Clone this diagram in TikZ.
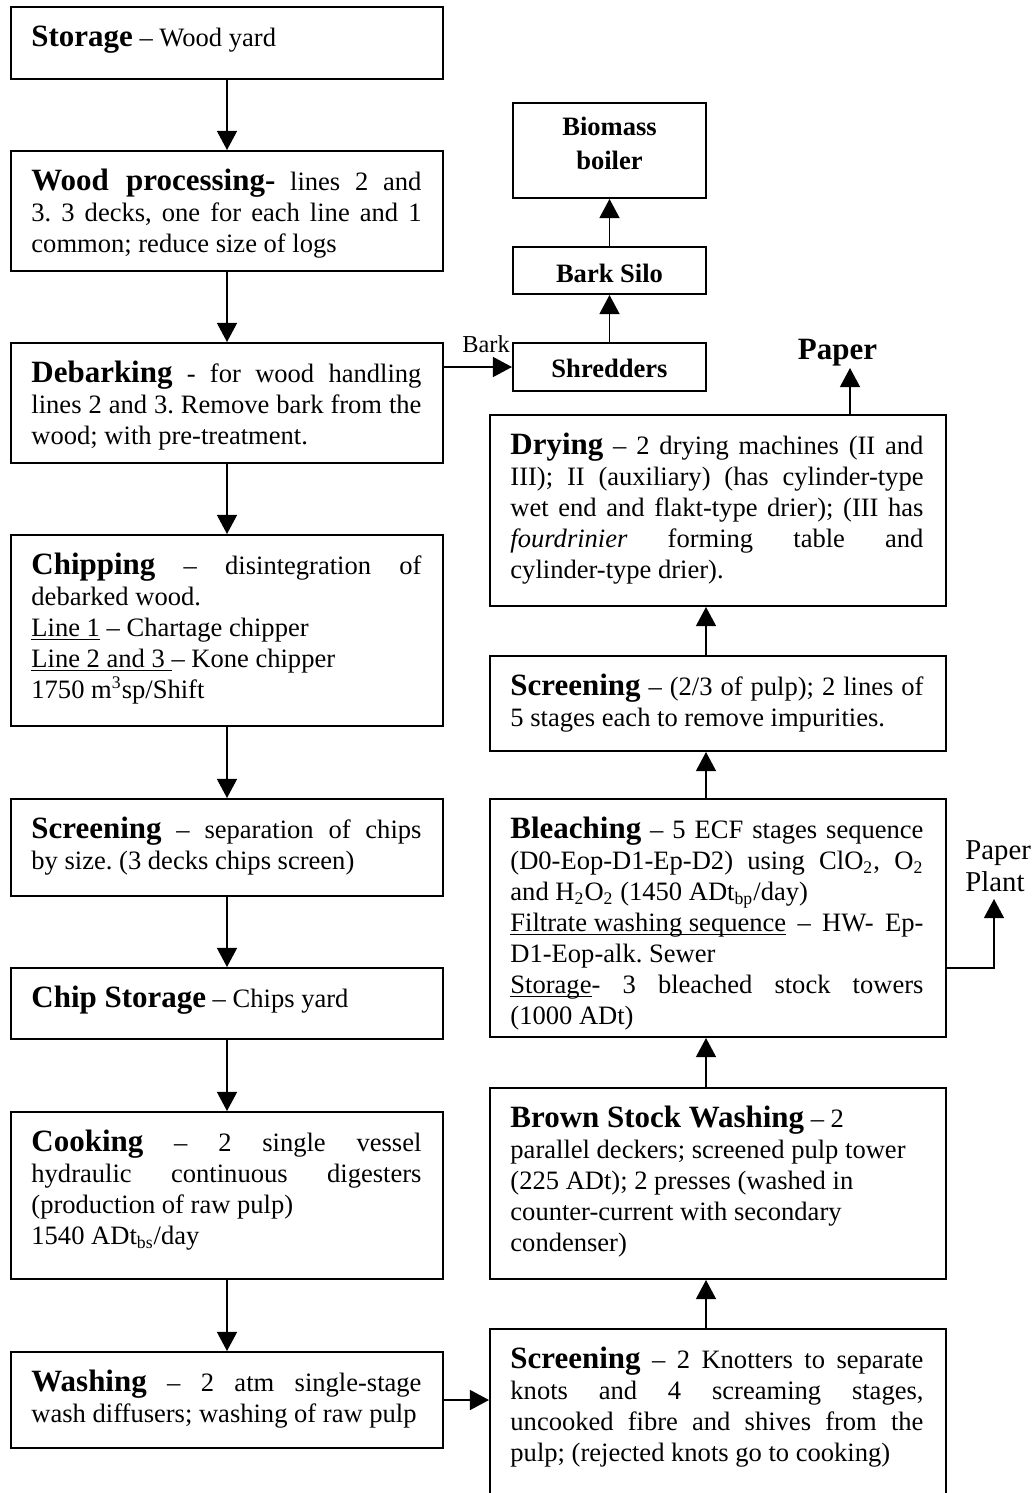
\documentclass[tikz,border=0pt]{standalone}
\usepackage{fontspec}
\setmainfont{Liberation Serif}
\usetikzlibrary{arrows.meta,fit}

% one drawing unit = 0.452pt
\newlength\LW \setlength\LW{176.3pt}   % text width, left column
\newlength\RW \setlength\RW{186.7pt}   % text width, right column
\newcommand\bodyfont{\fontsize{12}{14}\selectfont\frenchspacing\spaceskip=0pt\xspaceskip=0pt}
\newcommand\hd[1]{{\fontsize{14}{14}\selectfont\bfseries #1}}
\newcommand\JL[1]{\makebox[\LW][s]{#1}}
\newcommand\JR[1]{\makebox[\RW][s]{#1}}
\newcommand\fl{\rule{0pt}{10.5pt}}
% underline drawn just below the baseline
\newsavebox\ulbox
\newcommand\ul[1]{\leavevmode\sbox\ulbox{#1}\rlap{\rule[-1.6pt]{\wd\ulbox}{0.6pt}}\usebox\ulbox}

\tikzset{
  box/.style={draw, line width=0.9pt, inner sep=0pt},
  arr/.style={-{Triangle[width=9pt,length=8.6pt]}, line width=0.75pt},
  txtL/.style={anchor=north west, inner sep=0pt, text width=\LW, align=flush left, font=\bodyfont},
  txtR/.style={anchor=north west, inner sep=0pt, text width=\RW, align=flush left, font=\bodyfont},
  small/.style={inner sep=0pt, font=\fontsize{12}{15.4}\selectfont\bfseries, align=center},
}

\begin{document}
\begin{tikzpicture}[x=0.452pt, y=-0.452pt]
\useasboundingbox[fill=white] (0,0) rectangle (1034,1493);

% ---------- left column ----------
\node[box, fit={(11,7) (443,79)}] (storage) {};
\node[box, fit={(11,151) (443,271)}] (woodp) {};
\node[box, fit={(11,343) (443,463)}] (debark) {};
\node[box, fit={(11,535) (443,726)}] (chip) {};
\node[box, fit={(11,799) (443,896)}] (scrL) {};
\node[box, fit={(11,968) (443,1039)}] (chipst) {};
\node[box, fit={(11,1112) (443,1279)}] (cook) {};
\node[box, fit={(11,1352) (443,1448)}] (wash) {};

\node[txtL] (storageT) at ([shift={(21,17)}]storage.north west)
  {\fl\hd{Storage} – Wood yard};
\node[txtL] (woodpT) at ([shift={(21,17)}]woodp.north west)
  {\fl\JL{\hd{Wood processing-} lines 2 and}\\
   \JL{3. 3 decks, one for each line and 1}\\
   common; reduce size of logs};
\node[txtL] (debarkT) at ([shift={(21,17)}]debark.north west)
  {\fl\JL{\hd{Debarking} - for wood handling}\\
   \JL{lines 2 and 3. Remove bark from the}\\
   wood; with pre-treatment.};
\node[txtL] (chipT) at ([shift={(21,17)}]chip.north west)
  {\fl\JL{\hd{Chipping} – disintegration of}\\
   debarked wood.\\
   \ul{Line 1} – Chartage chipper\\
   \ul{Line 2 and 3\ }– Kone chipper\\
   1750 m\textsuperscript{3}sp/Shift};
\node[txtL] (scrLT) at ([shift={(21,17)}]scrL.north west)
  {\fl\JL{\hd{Screening} – separation of chips}\\
   by size. (3 decks chips screen)};
\node[txtL] (chipstT) at ([shift={(21,17)}]chipst.north west)
  {\fl\hd{Chip Storage} – Chips yard};
\node[txtL] (cookT) at ([shift={(21,17)}]cook.north west)
  {\fl\JL{\hd{Cooking} – 2 single vessel}\\
   \JL{hydraulic continuous digesters}\\
   (production of raw pulp)\\
   1540 ADt\textsubscript{bs}/day};
\node[txtL] (washT) at ([shift={(21,17)}]wash.north west)
  {\fl\JL{\hd{Washing} – 2 atm single-stage}\\
   wash diffusers; washing of raw pulp};

\draw[arr] (storage.south) -- (woodp.north);
\draw[arr] (woodp.south) -- (debark.north);
\draw[arr] (debark.south) -- (chip.north);
\draw[arr] (chip.south) -- (scrL.north);
\draw[arr] (scrL.south) -- (chipst.north);
\draw[arr] (chipst.south) -- (cook.north);
\draw[arr] (cook.south) -- (wash.north);

% ---------- bark line ----------
\node[box, fit={(513,103) (706,198)}] (biomass) {};
\node[box, fit={(513,247) (706,294)}] (silo) {};
\node[box, fit={(513,343) (706,391)}] (shred) {};
\node[small, anchor=north] (biomassT) at (609.5,112) {\fl Biomass\\boiler};
\node[small, anchor=base] (siloT) at (609.5,282) {Bark Silo};
\node[small, anchor=base] (shredT) at (609.5,377) {Shredders};
\node[inner sep=0pt, anchor=base west, font=\fontsize{11}{13}\selectfont] (barkL) at (462,352) {Bark};

\draw[arr] (debark.east |- shred.west) -- (shred.west);
\draw[arr] (shred.north) -- (silo.south);
\draw[arr] (silo.north) -- (biomass.south);

% ---------- right column ----------
\node[box, fit={(490,415) (946,606)}] (dry) {};
\node[box, fit={(490,656) (946,751)}] (scrR) {};
\node[box, fit={(490,799) (946,1037)}] (bleach) {};
\node[box, fit={(490,1088) (946,1279)}] (brown) {};
\node[box, fit={(490,1329) (946,1512)}] (scrB) {};

\node[txtR] (dryT) at ([shift={(21,17)}]dry.north west)
  {\fl\JR{\hd{Drying} – 2 drying machines (II and}\\
   \JR{III); II (auxiliary) (has cylinder-type}\\
   \JR{wet end and flakt-type drier); (III has}\\
   \JR{\textit{fourdrinier} forming table and}\\
   cylinder-type drier).};
\node[txtR] (scrRT) at ([shift={(21,17)}]scrR.north west)
  {\fl\JR{\hd{Screening} – (2/3 of pulp); 2 lines of}\\
   5 stages each to remove impurities.};
\node[txtR] (bleachT) at ([shift={(21,17)}]bleach.north west)
  {\fl\JR{\hd{Bleaching} – 5 ECF stages sequence}\\
   \JR{(D0-Eop-D1-Ep-D2) using ClO\textsubscript{2}, O\textsubscript{2}}\\
   and H\textsubscript{2}O\textsubscript{2} (1450 ADt\textsubscript{bp}/day)\\
   \JR{\ul{Filtrate washing sequence} – HW- Ep-}\\
   D1-Eop-alk. Sewer\\
   \JR{\ul{Storage}- 3 bleached stock towers}\\
   (1000 ADt)};
\node[txtR] (brownT) at ([shift={(21,17)}]brown.north west)
  {\fl\hd{Brown Stock Washing} – 2\\
   parallel deckers; screened pulp tower\\
   (225 ADt); 2 presses (washed in\\
   counter-current with secondary\\
   condenser)};
\node[txtR] (scrBT) at ([shift={(21,17)}]scrB.north west)
  {\fl\JR{\hd{Screening} – 2 Knotters to separate}\\
   \JR{knots and 4 screaming stages,}\\
   \JR{uncooked fibre and shives from the}\\
   pulp; (rejected knots go to cooking)};

\coordinate (colR) at (706,0);
\draw[arr] (wash.east) -- (wash.east -| scrB.west);
\draw[arr] (scrB.north -| colR) -- (brown.south -| colR);
\draw[arr] (brown.north -| colR) -- (bleach.south -| colR);
\draw[arr] (bleach.north -| colR) -- (scrR.south -| colR);
\draw[arr] (scrR.north -| colR) -- (dry.south -| colR);

% ---------- outputs ----------
\node[inner sep=0pt, anchor=base, font=\fontsize{14}{14}\selectfont\bfseries] (paper) at (837.5,359) {Paper};
\coordinate (paperTip) at (850,368);
\draw[arr] (dry.north -| paperTip) -- (paperTip);

\node[inner sep=0pt, anchor=north west, align=flush left, font=\fontsize{13}{14.5}\selectfont] (plant) at (965,836) {\fl Paper\\Plant};
\coordinate (plantTurn) at (994,968);
\coordinate (plantTip) at (994,899);
\draw[arr] (bleach.east |- plantTurn) -- (plantTurn) -- (plantTip);
\end{tikzpicture}
\end{document}
